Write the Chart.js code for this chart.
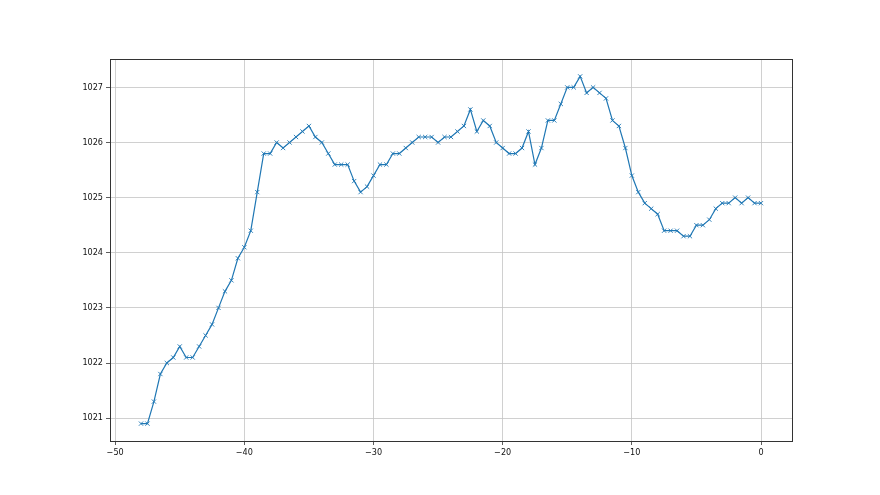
<!DOCTYPE html>
<html>
<head>
<meta charset="utf-8">
<script src="https://cdn.jsdelivr.net/npm/chart.js@4"></script>
<style>
  html, body { margin: 0; padding: 0; background: #fff; }
  #wrap { width: 880px; height: 495px; }
</style>
</head>
<body>
<div id="wrap"><canvas id="chart" width="880" height="495"></canvas></div>
<script>
// hours relative to now, and pressure readings (hPa)
const hours = [
  -48, -47.5, -47, -46.5, -46, -45.5, -45, -44.5, -44, -43.5,
  -43, -42.5, -42, -41.5, -41, -40.5, -40, -39.5, -39, -38.5,
  -38, -37.5, -37, -36.5, -36, -35.5, -35, -34.5, -34, -33.5,
  -33, -32.5, -32, -31.5, -31, -30.5, -30, -29.5, -29, -28.5,
  -28, -27.5, -27, -26.5, -26, -25.5, -25, -24.5, -24, -23.5,
  -23, -22.5, -22, -21.5, -21, -20.5, -20, -19.5, -19, -18.5,
  -18, -17.5, -17, -16.5, -16, -15.5, -15, -14.5, -14, -13.5,
  -13, -12.5, -12, -11.5, -11, -10.5, -10, -9.5, -9, -8.5,
  -8, -7.5, -7, -6.5, -6, -5.5, -5, -4.5, -4, -3.5,
  -3, -2.5, -2, -1.5, -1, -0.5, 0
];
const pressure = [
  1020.9, 1020.9, 1021.3, 1021.8, 1022.0, 1022.1, 1022.3, 1022.1, 1022.1, 1022.3,
  1022.5, 1022.7, 1023.0, 1023.3, 1023.5, 1023.9, 1024.1, 1024.4, 1025.1, 1025.8,
  1025.8, 1026.0, 1025.9, 1026.0, 1026.1, 1026.2, 1026.3, 1026.1, 1026.0, 1025.8,
  1025.6, 1025.6, 1025.6, 1025.3, 1025.1, 1025.2, 1025.4, 1025.6, 1025.6, 1025.8,
  1025.8, 1025.9, 1026.0, 1026.1, 1026.1, 1026.1, 1026.0, 1026.1, 1026.1, 1026.2,
  1026.3, 1026.6, 1026.2, 1026.4, 1026.3, 1026.0, 1025.9, 1025.8, 1025.8, 1025.9,
  1026.2, 1025.6, 1025.9, 1026.4, 1026.4, 1026.7, 1027.0, 1027.0, 1027.2, 1026.9,
  1027.0, 1026.9, 1026.8, 1026.4, 1026.3, 1025.9, 1025.4, 1025.1, 1024.9, 1024.8,
  1024.7, 1024.4, 1024.4, 1024.4, 1024.3, 1024.3, 1024.5, 1024.5, 1024.6, 1024.8,
  1024.9, 1024.9, 1025.0, 1024.9, 1025.0, 1024.9, 1024.9
];
const xTicks = [-50, -40, -30, -20, -10, 0];
const yTicks = [1021, 1022, 1023, 1024, 1025, 1026, 1027];

const points = hours.map((h, i) => ({ x: h, y: pressure[i] }));
const minus = v => String(v).replace('-', '\u2212');

// matplotlib-like frame round the plot area
const frame = {
  id: 'frame',
  afterDraw(chart) {
    const a = chart.chartArea, ctx = chart.ctx;
    ctx.save();
    ctx.strokeStyle = '#333';
    ctx.lineWidth = 1;
    ctx.strokeRect(Math.round(a.left) + 0.5, Math.round(a.top) + 0.5,
      Math.round(a.right - a.left), Math.round(a.bottom - a.top));
    ctx.restore();
  }
};

const tickFont = { family: "'Liberation Sans Narrow', 'DejaVu Sans Condensed', sans-serif", size: 9 };

new Chart(document.getElementById('chart').getContext('2d'), {
  type: 'scatter',
  data: {
    datasets: [{
      data: points,
      showLine: true,
      borderColor: '#1f77b4',
      borderWidth: 1.2,
      pointStyle: 'crossRot',
      pointRadius: 3,
      pointBorderWidth: 0.9,
      pointBorderColor: '#1f77b4',
      pointBackgroundColor: '#1f77b4',
      pointHoverRadius: 3,
      tension: 0
    }]
  },
  options: {
    responsive: false,
    animation: false,
    events: [],
    layout: { padding: { left: 0, top: 59, right: 88, bottom: 0 } },
    plugins: { legend: { display: false }, tooltip: { enabled: false } },
    scales: {
      x: {
        type: 'linear',
        min: -50.4,
        max: 2.4,
        afterBuildTicks: s => { s.ticks = xTicks.map(v => ({ value: v })); },
        afterFit: s => { s.height = 54; },
        border: { display: false },
        grid: { color: '#c4c4c4', lineWidth: 0.8, tickLength: 4, tickColor: '#333', drawTicks: true },
        ticks: { color: '#111', font: tickFont, padding: 2, maxRotation: 0, callback: v => minus(v) }
      },
      y: {
        min: 1020.585,
        max: 1027.515,
        afterBuildTicks: s => { s.ticks = yTicks.map(v => ({ value: v })); },
        afterFit: s => { s.width = 110; },
        border: { display: false },
        grid: { color: '#c4c4c4', lineWidth: 0.8, tickLength: 4, tickColor: '#333', drawTicks: true },
        ticks: { color: '#111', font: tickFont, padding: 3, callback: v => String(v) }
      }
    }
  },
  plugins: [frame]
});
</script>
</body>
</html>
